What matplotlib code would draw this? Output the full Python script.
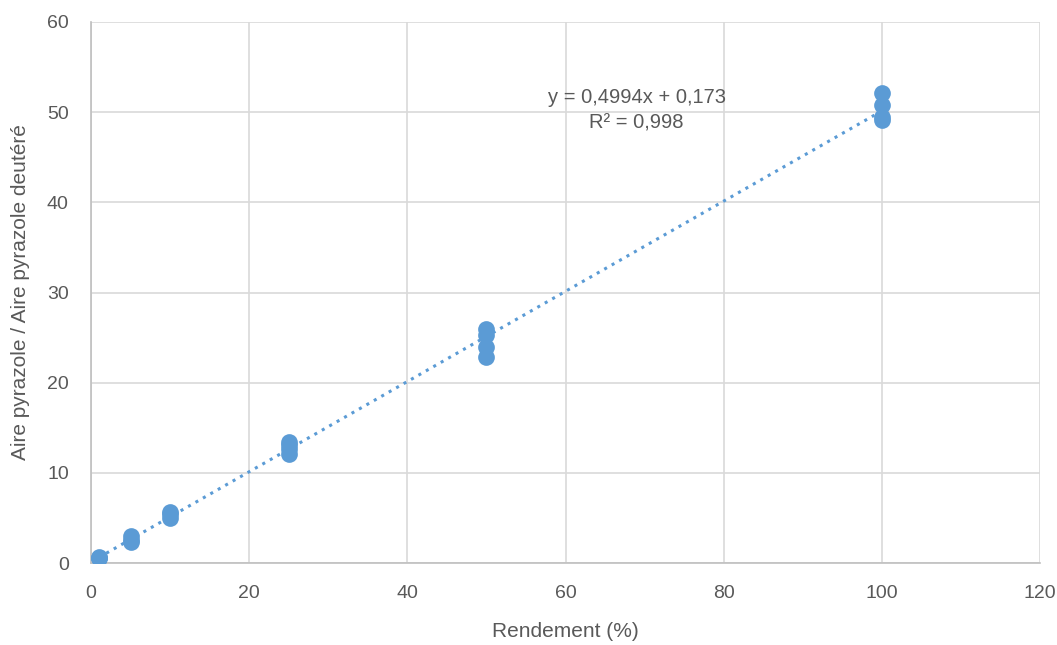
import numpy as np
import matplotlib.pyplot as plt

# replicate measurements per yield level
rendement = [1, 1, 1, 5, 5, 5, 10, 10, 10, 25, 25, 25, 25, 50, 50, 50, 50, 100, 100, 100, 100]
ratio = [0.5, 0.6, 0.7, 2.3, 2.6, 3.0, 5.0, 5.4, 5.7, 12.1, 12.6, 13.1, 13.4,
         22.9, 24.0, 25.3, 25.9, 49.1, 49.5, 50.8, 52.1]

blue = '#5B9BD5'
grey = '#595959'

plt.rcParams['font.family'] = ['Liberation Sans', 'DejaVu Sans']

fig = plt.figure(figsize=(10.57, 6.45), dpi=100)
ax = fig.add_axes([91 / 1057, 1 - 563 / 645, (1040 - 91) / 1057, (563 - 22) / 645])

x = np.array(rendement, dtype=float)
y = np.array(ratio, dtype=float)
slope, intercept = np.polyfit(x, y, 1)
xl = np.array([x.min(), x.max()])
ax.plot(xl, slope * xl + intercept, color=blue, linestyle=(0, (1, 1.8)), linewidth=2.2, zorder=2)

ax.scatter(x, y, s=145, color=blue, zorder=3, linewidths=0)

ax.set_xlim(0, 120)
ax.set_ylim(0, 60)
ax.set_xticks(range(0, 121, 20))
ax.set_yticks(range(0, 61, 10))
ax.grid(True, color='#D9D9D9', linewidth=1.2)
ax.set_axisbelow(True)
for side in ['top', 'right']:
    ax.spines[side].set_visible(False)
for side in ['left', 'bottom']:
    ax.spines[side].set_color('#BFBFBF')
    ax.spines[side].set_linewidth(1.2)
ax.tick_params(length=0, labelsize=14, colors=grey)
ax.tick_params(axis='x', pad=16)
ax.tick_params(axis='y', pad=16)

ax.set_xlabel('Rendement (%)', fontsize=15, color=grey, labelpad=14)
ax.set_ylabel('Aire pyrazole / Aire pyrazole deutéré', fontsize=15, color=grey, labelpad=12)

ax.text(69, 51.6, 'y = 0,4994x + 0,173', fontsize=14.5, color=grey, ha='center', va='center')
ax.text(69, 48.8, 'R² = 0,998', fontsize=14.5, color=grey, ha='center', va='center')

fig.savefig('out.png', dpi=100)
